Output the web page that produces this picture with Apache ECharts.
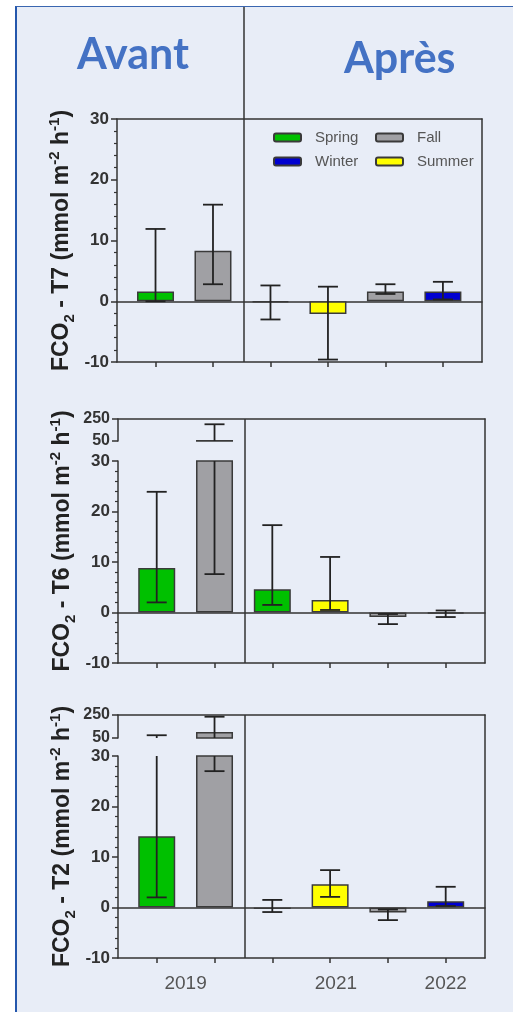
<!DOCTYPE html>
<html>
<head>
<meta charset="utf-8">
<script src="https://cdn.jsdelivr.net/npm/echarts@6/dist/echarts.min.js"></script>
<style>
html, body { margin: 0; padding: 0; background: #fff; }
#frame { position: absolute; left: 15px; top: 6px; width: 498px; height: 1006px; background: #e8edf7;
         border-left: 2px solid #2457ad; border-top: 1px solid #3a66b0; box-sizing: border-box; }
#chart { position: absolute; left: 0; top: 0; width: 513px; height: 1012px; }
</style>
</head>
<body>
<div id="frame"></div>
<div id="chart"></div>
<script>
// bar slots, left to right (2019: spring, fall / 2021: spring, summer, fall / 2022: winter)
var slots = [0, 1, 2, 3, 4, 5];
var slotSeason = ['Spring', 'Fall', 'Spring', 'Summer', 'Fall', 'Winter'];
var seasons = ['Spring', 'Fall', 'Winter', 'Summer'];
var yearLabels = ['2019', '2021', '2022'];
var yearPos = [0.5, 3.1, 5.0];
var highTicks = [50, 150, 250];
var highLabels = [50, 100, 150, 250];

// T7
var t7Mean = [1.6, 8.3, -0.2, -2.1, 1.6, 1.6];
var t7Low = [0, 2.8, -3.0, -9.6, 1.2, 0.3];
var t7High = [11.9, 15.9, 2.6, 2.4, 2.8, 3.2];
// T6
var t6Mean = [8.8, 59, 4.6, 2.5, -0.9, -0.2];
var t6Low = [2.0, 7.6, 1.5, 0.5, -2.3, -0.9];
var t6High = [23.9, 202, 17.3, 11.0, -0.3, 0.4];
// T2
var t2Mean = [14.1, 103, -0.3, 4.6, -1.0, 1.25];
var t2Low = [2.0, 27, -0.9, 2.1, -2.5, 0.3];
var t2High = [74, 235, 1.5, 7.4, -0.4, 4.1];

var seasonColor = { Spring: '#00c000', Fall: '#a0a0a4', Winter: '#0000d0', Summer: '#ffff00' };
var ink = '#333';
var font = 'Liberation Sans';
var X_MIN = -0.67, X_MAX = 5.68, DIVIDER = 1.53;

var chart = echarts.init(document.getElementById('chart'));
var grid = [], xAxis = [], yAxis = [], series = [];

function addGrid(left, right, top, height) {
    grid.push({ left: left, right: right, top: top, height: height });
    return grid.length - 1;
}

function addX(gi, opt) {
    xAxis.push(Object.assign({
        type: 'value', gridIndex: gi, min: X_MIN, max: X_MAX,
        axisLine: { show: false }, axisTick: { show: false },
        axisLabel: { show: false }, splitLine: { show: false }
    }, opt));
    return xAxis.length - 1;
}

function addY(gi, opt) {
    yAxis.push(Object.assign({
        type: 'value', gridIndex: gi,
        axisLine: { show: false }, axisTick: { show: false },
        axisLabel: { show: false }, splitLine: { show: false }
    }, opt));
    return yAxis.length - 1;
}

var solid = { color: ink, width: 1.5 };

function axisName(t) {
    return '{m|FCO}{s|2}{m| - ' + t + ' (mmol m}{p|-2}{m| h}{p|-1}{m|)}';
}
var nameStyle = {
    color: '#222',
    rich: {
        m: { fontSize: 23, fontWeight: 'bold', fontFamily: font, color: '#222', lineHeight: 30 },
        s: { fontSize: 15, fontWeight: 'bold', fontFamily: font, color: '#222', lineHeight: 15, verticalAlign: 'bottom' },
        p: { fontSize: 15, fontWeight: 'bold', fontFamily: font, color: '#222', lineHeight: 15, verticalAlign: 'top' }
    }
};

function renderErr(params, api) {
    var x = api.value(0);
    var lo = api.coord([x, api.value(1)]);
    var hi = api.coord([x, api.value(2)]);
    var w = 10;
    var st = { stroke: '#222', lineWidth: 1.8 };
    return {
        type: 'group',
        children: [
            { type: 'line', shape: { x1: lo[0], y1: lo[1], x2: hi[0], y2: hi[1] }, style: st },
            { type: 'line', shape: { x1: lo[0] - w, y1: lo[1], x2: lo[0] + w, y2: lo[1] }, style: st },
            { type: 'line', shape: { x1: hi[0] - w, y1: hi[1], x2: hi[0] + w, y2: hi[1] }, style: st }
        ]
    };
}

function dividerSeries(xi, yi) {
    series.push({
        type: 'line', xAxisIndex: xi, yAxisIndex: yi, data: [], silent: true,
        markLine: {
            silent: true, symbol: 'none', label: { show: false },
            lineStyle: { color: ink, type: 'solid', width: 1.5 },
            data: [{ xAxis: DIVIDER }]
        }
    });
}

// one y segment (lower -10..30 or upper 50..250) with its bars and error bars
function segment(left, right, top, height, upper, mean, low, high) {
    var gi = addGrid(left, right, top, height);
    var xi = addX(gi, upper ? {} : {
        axisLine: { show: true, onZero: true, lineStyle: solid }
    });
    var yi;
    if (upper) {
        yi = addY(gi, {
            min: 50, max: 250,
            axisLine: { show: true, onZero: false, lineStyle: solid },
            axisTick: { show: true, length: 6, customValues: highTicks, lineStyle: solid },
            axisLabel: {
                show: true, customValues: highLabels, showMinLabel: true, showMaxLabel: true, hideOverlap: false,
                margin: 8, fontSize: 16, fontWeight: 'bold', color: ink, fontFamily: font
            }
        });
    } else {
        yi = addY(gi, {
            min: -10, max: 30, interval: 10,
            axisLine: { show: true, onZero: false, lineStyle: solid },
            axisTick: { show: true, length: 6, lineStyle: solid },
            minorTick: { show: true, splitNumber: 5, length: 3, lineStyle: { color: ink, width: 1.2 } },
            axisLabel: { show: true, margin: 8, fontSize: 17, fontWeight: 'bold', color: ink, fontFamily: font }
        });
    }
    seasons.forEach(function (s) {
        var data = [];
        slots.forEach(function (i) {
            if (slotSeason[i] === s && (!upper || mean[i] > 50)) data.push([i, mean[i]]);
        });
        if (!data.length) return;
        series.push({
            name: s, type: 'bar', xAxisIndex: xi, yAxisIndex: yi,
            barWidth: 37, barGap: '-100%', z: 2,
            itemStyle: { color: seasonColor[s], borderColor: '#3a3a3a', borderWidth: 1.5 },
            data: data
        });
    });
    series.push({
        type: 'custom', xAxisIndex: xi, yAxisIndex: yi, clip: true, z: 3, silent: true,
        renderItem: renderErr,
        encode: { x: 0, y: [1, 2] },
        data: slots.map(function (i) { return [i, low[i], high[i]]; })
    });
}

// frame of a panel: bottom ticks, top/right border, axis title
function frame(left, right, top, height, name, years, divider) {
    var gi = addGrid(left, right, top, height);
    var xb = addX(gi, {
        position: 'bottom',
        axisLine: { show: true, onZero: false, lineStyle: solid },
        axisTick: { show: true, length: 5, customValues: slots, lineStyle: solid },
        axisLabel: {
            show: years, customValues: yearPos, margin: 16, fontSize: 19, color: '#555', fontFamily: font,
            formatter: function (v) { return yearLabels[yearPos.indexOf(v)]; }
        }
    });
    addX(gi, { position: 'top', axisLine: { show: true, onZero: false, lineStyle: solid } });
    var yl = addY(gi, {
        position: 'left', min: 0, max: 1,
        name: name, nameLocation: 'middle', nameGap: 40, nameTextStyle: nameStyle
    });
    addY(gi, { position: 'right', min: 0, max: 1, axisLine: { show: true, onZero: false, lineStyle: solid } });
    if (divider) dividerSeries(xb, yl);
}

// T7 panel (no break)
frame(117, 31, 119, 243, axisName('T7'), false, false);
segment(117, 31, 119, 243, false, t7Mean, t7Low, t7High);
(function () {
    var gi = addGrid(117, 31, 7, 355);
    dividerSeries(addX(gi, {}), addY(gi, { min: 0, max: 1 }));
})();

// T6 panel
frame(118, 28, 419, 244, axisName('T6'), false, true);
segment(118, 28, 419, 22, true, t6Mean, t6Low, t6High);
segment(118, 28, 461, 202, false, t6Mean, t6Low, t6High);

// T2 panel
frame(118, 28, 715, 243, axisName('T2'), true, true);
segment(118, 28, 715, 23, true, t2Mean, t2Low, t2High);
segment(118, 28, 756, 202, false, t2Mean, t2Low, t2High);

var legendBase = {
    orient: 'vertical', top: 130, padding: 0, itemWidth: 27, itemHeight: 8, itemGap: 9, icon: 'roundRect',
    textStyle: { fontSize: 15, color: '#555', fontFamily: font, lineHeight: 14, padding: [0, 0, 0, 9] }
};

var titleStyle = { fontFamily: 'Lato', fontWeight: 'bold', fontSize: 43, color: '#4472c4' };

var option = {
    animation: false,
    backgroundColor: 'transparent',
    textStyle: { fontFamily: font },
    title: [
        { text: 'Avant', left: 72, top: 29, textStyle: titleStyle },
        { text: 'Après', left: 339, top: 33, textStyle: titleStyle }
    ],
    legend: [
        Object.assign({ left: 273, data: ['Spring', 'Winter'] }, legendBase),
        Object.assign({ left: 375, data: ['Fall', 'Summer'] }, legendBase)
    ],
    grid: grid,
    xAxis: xAxis,
    yAxis: yAxis,
    series: series
};
chart.setOption(option);
</script>
</body>
</html>
